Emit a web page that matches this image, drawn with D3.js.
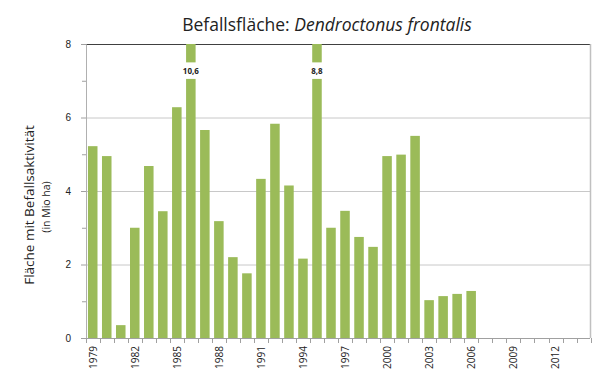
<!DOCTYPE html>
<html>
<head>
<meta charset="utf-8">
<script src="https://cdn.jsdelivr.net/npm/d3@7"></script>
<style>
  body { margin: 0; background: #fff; }
  svg { display: block; font-family: "Open Sans", "Liberation Sans", sans-serif; }
</style>
</head>
<body>
<div id="chart"></div>
<script>
// Befallsfläche Dendroctonus frontalis, Mio ha per year
const years = d3.range(1979, 2015);
const values = [5.22, 4.95, 0.35, 3.0, 4.68, 3.45, 6.28, 10.6, 5.66, 3.18,
                2.2, 1.76, 4.33, 5.83, 4.15, 2.16, 8.8, 3.0, 3.46, 2.75,
                2.48, 4.95, 4.99, 5.5, 1.03, 1.14, 1.2, 1.28];
const yTicks = [0, 2, 4, 6, 8];
const yMinorTicks = [1, 3, 5, 7];
const xLabelYears = [1979, 1982, 1985, 1988, 1991, 1994, 1997, 2000, 2003, 2006, 2009, 2012];

const data = values.map((v, i) => ({ year: years[i], value: v }));

const width = 600, height = 387;
const margin = { top: 44, left: 86, right: 10, bottom: 49 };
const innerWidth = width - margin.left - margin.right;
const innerHeight = height - margin.top - margin.bottom;

const svg = d3.select("#chart")
  .append("svg")
    .attr("width", width)
    .attr("height", height);

const inner = svg.append("g")
  .attr("transform", `translate(${margin.left}, ${margin.top})`);

const xScale = d3.scaleBand()
  .domain(years)
  .range([0, innerWidth])
  .paddingInner(0.32)
  .paddingOuter(0.14);

const yMax = 8;
const yScale = d3.scaleLinear()
  .domain([0, yMax])
  .range([innerHeight, 0]);

// gridlines
inner.selectAll(".grid")
  .data(yTicks.filter(d => d > 0))
  .enter()
  .append("line")
    .attr("x1", 0)
    .attr("x2", innerWidth)
    .attr("y1", d => yScale(d) + 0.5)
    .attr("y2", d => yScale(d) + 0.5)
    .attr("stroke", d => d === yMax ? "#404040" : "#c8c8c8")
    .attr("stroke-width", 1);

// right border
inner.append("line")
  .attr("x1", innerWidth + 0.5).attr("x2", innerWidth + 0.5)
  .attr("y1", 0).attr("y2", innerHeight)
  .attr("stroke", "#c0c0c0").attr("stroke-width", 1.5);

// bars (values above the axis max are broken)
const lowerTop = 7.05, upperBottom = 7.5;
const bars = inner.selectAll(".bar")
  .data(data)
  .enter();

bars.append("rect")
  .attr("class", "bar")
  .attr("x", d => xScale(d.year))
  .attr("width", xScale.bandwidth())
  .attr("y", d => yScale(d.value > yMax ? lowerTop : d.value))
  .attr("height", d => innerHeight - yScale(d.value > yMax ? lowerTop : d.value))
  .attr("fill", "#9bbb59");

const broken = data.filter(d => d.value > yMax);
inner.selectAll(".bar-top")
  .data(broken)
  .enter()
  .append("rect")
    .attr("x", d => xScale(d.year))
    .attr("width", xScale.bandwidth())
    .attr("y", yScale(yMax))
    .attr("height", yScale(upperBottom) - yScale(yMax))
    .attr("fill", "#9bbb59");

inner.selectAll(".bar-label")
  .data(broken)
  .enter()
  .append("text")
    .attr("x", d => xScale(d.year) + xScale.bandwidth() / 2)
    .attr("y", yScale((lowerTop + upperBottom) / 2) + 3)
    .attr("text-anchor", "middle")
    .attr("font-size", 8)
    .attr("font-weight", "bold")
    .attr("fill", "#222")
    .text(d => d3.format(".1f")(d.value).replace(".", ","));

// y axis
const yAxis = d3.axisLeft(yScale)
  .tickValues(yTicks)
  .tickSize(5)
  .tickPadding(10)
  .tickFormat(d3.format("d"));
const gy = inner.append("g")
  .attr("class", "axis-y")
  .call(yAxis);
gy.selectAll(".tick line").attr("stroke", "#a0a0a0");
gy.select(".domain").attr("stroke", "#b0b0b0");
gy.selectAll("text").attr("font-size", 10).attr("fill", "#222");

inner.selectAll(".minor")
  .data(yMinorTicks)
  .enter()
  .append("line")
    .attr("x1", -4).attr("x2", 0)
    .attr("y1", d => yScale(d) + 0.5).attr("y2", d => yScale(d) + 0.5)
    .attr("stroke", "#a0a0a0");

// x axis: ticks at category boundaries, labels every 3 years
const gx = inner.append("g")
  .attr("transform", `translate(0, ${innerHeight})`);
gx.append("line")
  .attr("x1", 0).attr("x2", innerWidth)
  .attr("y1", 0.5).attr("y2", 0.5)
  .attr("stroke", "#a0a0a0");
const step = xScale.step();
gx.selectAll(".xtick")
  .data(d3.range(years.length + 1))
  .enter()
  .append("line")
    .attr("x1", i => Math.round(i * step) + 0.5)
    .attr("x2", i => Math.round(i * step) + 0.5)
    .attr("y1", 0).attr("y2", 5)
    .attr("stroke", "#a0a0a0");
gx.selectAll(".xlabel")
  .data(xLabelYears)
  .enter()
  .append("text")
    .attr("transform", d => `translate(${xScale(d) + xScale.bandwidth() / 2 + 4}, 8) rotate(-90)`)
    .attr("text-anchor", "end")
    .attr("font-size", 10)
    .attr("fill", "#222")
    .text(d => d);

// title
const title = svg.append("text")
  .attr("x", 327)
  .attr("y", 31)
  .attr("text-anchor", "middle")
  .attr("font-size", 17.5)
  .attr("fill", "#222");
title.append("tspan").text("Befallsfläche: ");
title.append("tspan").attr("font-style", "italic").text("Dendroctonus frontalis");

// y axis title
svg.append("text")
  .attr("transform", "translate(34, 205) rotate(-90)")
  .attr("text-anchor", "middle")
  .attr("font-size", 13.5)
  .attr("fill", "#222")
  .text("Fläche mit Befallsaktivität");
svg.append("text")
  .attr("transform", "translate(50, 207) rotate(-90)")
  .attr("text-anchor", "middle")
  .attr("font-size", 10.5)
  .attr("fill", "#222")
  .text("(in Mio ha)");
</script>
</body>
</html>
